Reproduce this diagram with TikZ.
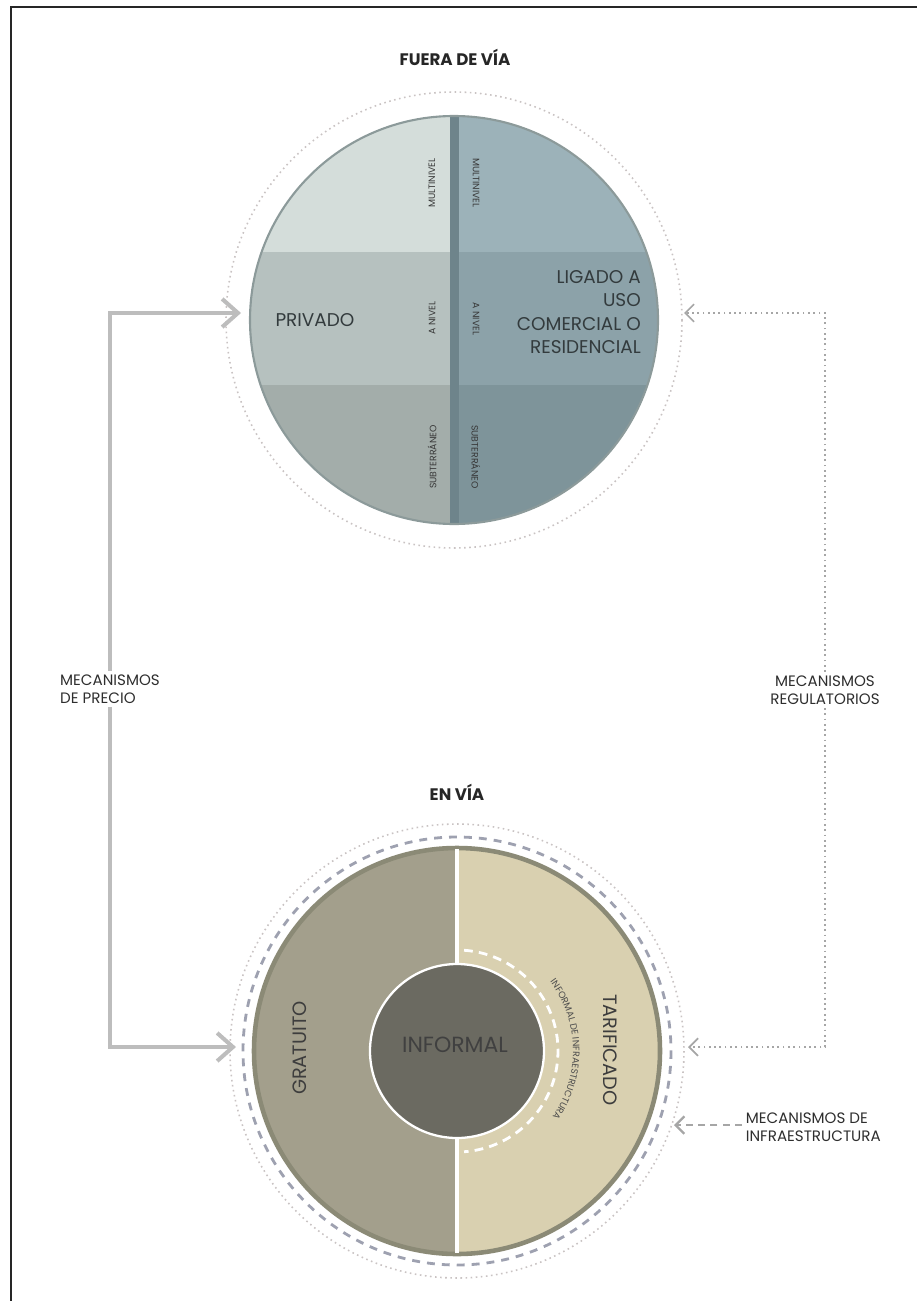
\documentclass[tikz,border=0pt]{standalone}
\usepackage{fontspec}
\setmainfont{Poppins}
\usetikzlibrary{arrows.meta,decorations.text}

\definecolor{fvA}{HTML}{D4DDDA}
\definecolor{fvB}{HTML}{B6C1BF}
\definecolor{fvC}{HTML}{A3ADAA}
\definecolor{fvD}{HTML}{9CB2B9}
\definecolor{fvE}{HTML}{8CA2A9}
\definecolor{fvF}{HTML}{7E949A}
\definecolor{fvdiv}{HTML}{6E848B}
\definecolor{fvedge}{HTML}{8C9A9A}
\definecolor{evL}{HTML}{A39F8C}
\definecolor{evR}{HTML}{D9D0B0}
\definecolor{evedge}{HTML}{8B8A76}
\definecolor{infgray}{HTML}{6B6A61}
\definecolor{pricegray}{HTML}{BDBDBD}
\definecolor{reggray}{HTML}{A6A6A6}
\definecolor{ringgray}{HTML}{C9C3C3}
\definecolor{dashblue}{HTML}{9EA1B0}
\definecolor{txtdark}{HTML}{333B3D}

\begin{document}
\begin{tikzpicture}[x=0.02cm,y=-0.02cm,
  title/.style={font=\bfseries\fontsize{9.5}{11}\selectfont, text=black!85},
  bigtxt/.style={font=\fontsize{10.5}{13.3}\selectfont, text=txtdark},
  smalltxt/.style={font=\fontsize{5.3}{6}\selectfont, text=black!78},
  mecatxt/.style={font=\fontsize{8.6}{10}\selectfont, text=black!82, inner sep=2pt},
  pricearrow/.style={draw=pricegray, line width=2.3pt, -{Straight Barb[length=9pt,width=16pt]}},
  regarrow/.style={draw=reggray, line width=1pt, dotted, -{Straight Barb[length=5pt,width=10pt]}},
  infraarrow/.style={draw=reggray, line width=1.3pt, dash pattern=on 4pt off 3pt, -{Straight Barb[length=5pt,width=10pt]}},
  ringdots/.style={draw=ringgray, line width=0.9pt, dotted},
  ringdash/.style={draw=dashblue, line width=1.6pt, dash pattern=on 4.5pt off 4pt}]
\useasboundingbox (0,0) rectangle (917,1301);

\draw[black!85, line width=1pt] (11,1301) -- (11,7) -- (917,7);

\coordinate (top) at (454,320);
\coordinate (bot) at (457,1051);
\coordinate (topL) at (241,313);
\coordinate (botL) at (236,1047);
\coordinate (topR) at (684,313);
\coordinate (botR) at (688,1047);
\coordinate (infraTip) at (674,1125);

% fuera de via
\node[title] (fuera) at (455,57) {FUERA DE VÍA};
\draw[ringdots] (top) circle[radius=228];
\begin{scope}
\clip (top) circle[radius=204];
\fill[fvA] (240,110) rectangle (454,252);
\fill[fvB] (240,252) rectangle (454,385);
\fill[fvC] (240,385) rectangle (454,530);
\fill[fvD] (454,110) rectangle (670,252);
\fill[fvE] (454,252) rectangle (670,385);
\fill[fvF] (454,385) rectangle (670,530);
\fill[fvdiv] (450,110) rectangle (459,530);
\end{scope}
\draw[fvedge, line width=1.2pt] (top) circle[radius=204];

\node[bigtxt] (privado) at (315,320) {PRIVADO};
\node[bigtxt, align=right, anchor=east] (ligado) at (647,312)
  {LIGADO A\\USO\\COMERCIAL O\\RESIDENCIAL};

\node[smalltxt, rotate=90] (multiL) at (432,183) {MULTINIVEL};
\node[smalltxt, rotate=90] (nivelL) at (432,318) {A NIVEL};
\node[smalltxt, rotate=90] (subtL) at (432,457) {SUBTERRÁNEO};
\node[smalltxt, rotate=-90] (multiR) at (476,183) {MULTINIVEL};
\node[smalltxt, rotate=-90] (nivelR) at (476,319) {A NIVEL};
\node[smalltxt, rotate=-90] (subtR) at (476,457) {SUBTERRÁNEO};

% en via
\node[title] (envia) at (457,792) {EN VÍA};
\draw[ringdots] (bot) circle[radius=227];
\draw[ringdash] (bot) circle[radius=214];
\begin{scope}
\clip (bot) circle[radius=203];
\fill[evL] (240,840) rectangle (457,1260);
\fill[evR] (457,840) rectangle (680,1260);
\end{scope}
\draw[evedge, line width=2.6pt] (bot) circle[radius=203];
\draw[white, line width=2.2pt] (457,849) -- (457,1253);
\draw[white, line width=1.6pt, dash pattern=on 5pt off 3.5pt]
  ([shift={(-86:101)}]bot) arc[start angle=-86, end angle=86, radius=101];
\filldraw[fill=infgray, draw=white, line width=1.3pt] (bot) circle[radius=87];

\node[font=\fontsize{12.5}{14}\selectfont, text=black!75] (informal) at (455,1045) {INFORMAL};
\node[font=\fontsize{11}{13}\selectfont, text=black!76, rotate=90] (gratuito) at (300,1048) {GRATUITO};
\node[font=\fontsize{11}{13}\selectfont, text=black!76, rotate=-90] (tarificado) at (610,1050) {TARIFICADO};
\path[decorate, decoration={text along path, text align=center,
  text={|\fontsize{5.3}{6}\selectfont\color{black!70}|INFORMAL DE INFRAESTRUCTURA}}]
  ([shift={(-54:116)}]bot) arc[start angle=-54, end angle=52, radius=116];

% mecanismos
\node[mecatxt, align=left] (precio) at (110,689) {MECANISMOS\\DE PRECIO};
\node[mecatxt, align=center] (regul) at (825,690) {MECANISMOS\\REGULATORIOS};
\node[mecatxt, align=left, anchor=west] (infra) at (742,1127) {MECANISMOS DE\\INFRAESTRUCTURA};

\draw[pricearrow] (precio.north) |- (topL);
\draw[pricearrow] (precio.south) |- (botL);
\draw[regarrow] (regul.north) |- (topR);
\draw[regarrow] (regul.south) |- (botR);
\draw[infraarrow] (infra.west |- infraTip) -- (infraTip);

\end{tikzpicture}
\end{document}
